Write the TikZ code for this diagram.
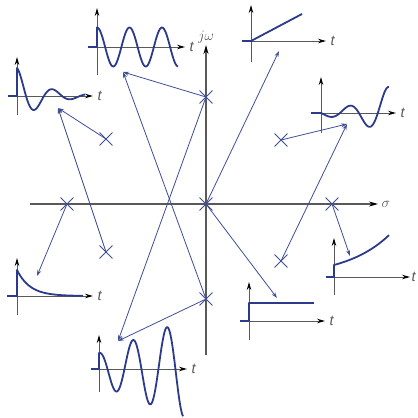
\documentclass[tikz,border=0pt]{standalone}
\usepackage{fontspec}
\setmainfont{Liberation Sans}
\usetikzlibrary{arrows.meta, shapes.misc}

\definecolor{sigblue}{RGB}{44,58,140}
\definecolor{linkblue}{RGB}{62,78,152}

\begin{document}
\begin{tikzpicture}[
    x=1pt, y=-1pt,
    font=\Large,
    axis/.style={black!65, line width=1pt, -{Stealth[length=8pt, width=4.5pt, color=black]}},
    mainaxis/.style={black!65, line width=1.1pt, -{Stealth[length=9pt, width=5pt, color=black]}},
    signal/.style={sigblue, line width=1.8pt, line join=round},
    link/.style={linkblue, line width=0.8pt, -{Stealth[length=6pt, width=4pt]}},
    pole/.style={cross out, draw=linkblue, line width=0.9pt, minimum size=12pt, inner sep=0pt},
    tlabel/.style={right, inner sep=4pt},
]

\useasboundingbox (0,0) rectangle (418,418);

% ---- s-plane axes ----
\draw[mainaxis] (30,204) -- (378,204) node[right, inner sep=3pt] (sigma) {$\sigma$};
\draw[mainaxis] (206,355) -- (206,45) node[above, inner sep=1pt] (jw) {$j\omega$};

% ---- poles ----
\node[pole] (p0)  at (206,204) {};
\node[pole] (pJu) at (206,97)  {};
\node[pole] (pJd) at (206,299) {};
\node[pole] (pLu) at (106,139) {};
\node[pole] (pLd) at (106,252) {};
\node[pole] (pLr) at (67,204)  {};
\node[pole] (pRu) at (281,140) {};
\node[pole] (pRd) at (281,261) {};
\node[pole] (pRr) at (332,204) {};

% ---- where the arrows end ----
\coordinate (tipDamped) at (58,108);
\coordinate (tipSine)   at (123,72);
\coordinate (tipGrowS)  at (118,341);
\coordinate (tipRamp)   at (279,51);
\coordinate (tipStep)   at (277,298);
\coordinate (tipDecay)  at (37,276);
\coordinate (tipGrowE)  at (350,256);
\coordinate (tipGrowR)  at (347,124);

% ---- pole -> response arrows ----
\draw[link] (pLu.center) -- (tipDamped);
\draw[link] (pLd.center) -- (tipDamped);
\draw[link] (pJu.center) -- (tipSine);
\draw[link] (pJd.center) -- (tipSine);
\draw[link] (pJu.center) -- (tipGrowS);
\draw[link] (pJd.center) -- (tipGrowS);
\draw[link] (p0.center)  -- (tipRamp);
\draw[link] (p0.center)  -- (tipStep);
\draw[link] (pLr.center) -- (tipDecay);
\draw[link] (pRr.center) -- (tipGrowE);
\draw[link] (pRu.center) -- (tipGrowR);
\draw[link] (pRd.center) -- (tipGrowR);

% ---- damped oscillation ----
\begin{scope}[shift={(17,96)}]
    \draw[axis] (-9,0) -- (76,0) node[tlabel] (tDamped) {\textit{t}};
    \draw[axis] (0,19) -- (0,-39);
    \draw[signal] (-9,0) -- (0,0) -- plot[domain=0:68, samples=90] (\x, {-28*exp(-\x/25)*cos(10*\x)});
\end{scope}

% ---- sustained oscillation ----
\begin{scope}[shift={(97,47)}]
    \draw[axis] (-9,0) -- (88,0) node[tlabel] (tSine) {\textit{t}};
    \draw[axis] (0,28) -- (0,-39);
    \draw[signal] (-9,0) -- (0,0) -- plot[domain=0:81, samples=100] (\x, {-19.5*cos(11.08*\x)});
\end{scope}

% ---- ramp ----
\begin{scope}[shift={(251,41)}]
    \draw[axis] (-9,0) -- (75,0) node[tlabel] (tRamp) {\textit{t}};
    \draw[axis] (0,21) -- (0,-36);
    \draw[signal] (-9,0) -- (0,0) -- (51,-27);
\end{scope}

% ---- growing oscillation, right half plane ----
\begin{scope}[shift={(321,113)}]
    \draw[axis] (-10,0) -- (75,0) node[tlabel] (tGrowR) {\textit{t}};
    \draw[axis] (0,20) -- (0,-36);
    \draw[signal] (-10,0) -- (0,0) -- plot[domain=0:68, samples=90] (\x, {2.8*exp(\x/30)*sin(9.5*\x)});
\end{scope}

% ---- exponential decay ----
\begin{scope}[shift={(17,296)}]
    \draw[axis] (-10,0) -- (76,0) node[tlabel] (tDecay) {\textit{t}};
    \draw[axis] (0,19) -- (0,-38);
    \draw[signal] (-10,0) -- (0,0) -- plot[domain=0:66, samples=60] (\x, {-26*exp(-\x/13)});
\end{scope}

% ---- step ----
\begin{scope}[shift={(249,321)}]
    \draw[axis] (-9,0) -- (76,0) node[tlabel] (tStep) {\textit{t}};
    \draw[axis] (0,19) -- (0,-39);
    \draw[signal] (-9,0) -- (0,0) -- (0,-18) -- (65,-18);
\end{scope}

% ---- exponential growth ----
\begin{scope}[shift={(334,277)}]
    \draw[axis] (-8,0) -- (76,0) node[right, inner sep=1pt] (tGrowE) {\textit{t}};
    \draw[axis] (0,18) -- (0,-39);
    \draw[signal] (-8,0) -- (0,0) -- plot[domain=0:55, samples=50] (\x, {-12*exp(\x/44)});
\end{scope}

% ---- growing oscillation, double poles on j-omega axis ----
\begin{scope}[shift={(99,369)}]
    \draw[axis] (-8,0) -- (88,0) node[tlabel] (tGrowS) {\textit{t}};
    \draw[axis] (0,23) -- (0,-34);
    \draw[signal] (-8,0) -- (0,0) -- plot[domain=0:84, samples=110] (\x, {-(16+0.38*\x)*cos(10.6*\x)});
\end{scope}

\end{tikzpicture}
\end{document}
